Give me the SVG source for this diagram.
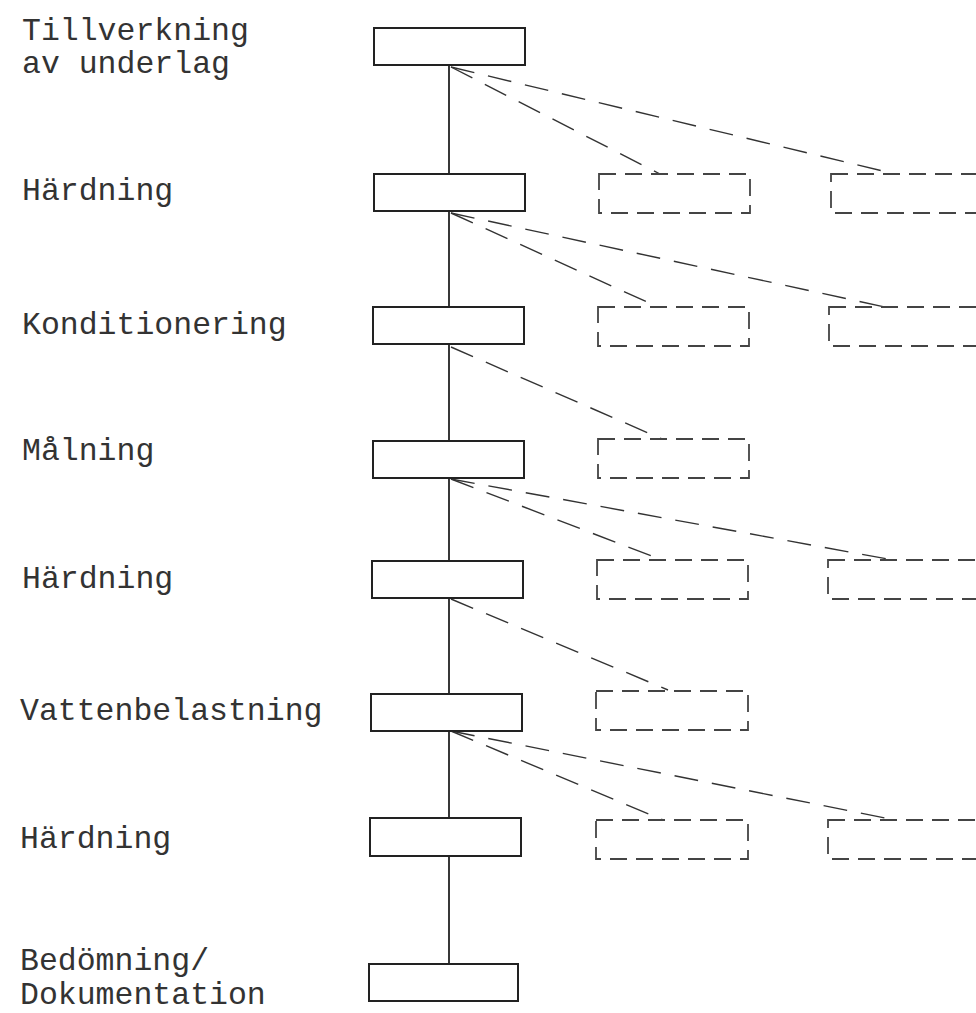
<svg xmlns="http://www.w3.org/2000/svg" width="976" height="1013" viewBox="0 0 976 1013">
<style>
.lbl{font-family:"Liberation Mono","Courier New",monospace;font-size:31.5px;fill:#333}
.box{fill:#fff;stroke:#222;stroke-width:2}
.opt{fill:none;stroke:#444;stroke-width:1.8;stroke-dasharray:17 9}
.trunk{stroke:#222;stroke-width:1.8;fill:none}
.dash{stroke:#333;stroke-width:1.4;fill:none;stroke-dasharray:24 14}
</style>
<rect width="976" height="1013" fill="#fff"/>
<g id="connectors">
<line class="trunk" x1="449" y1="65" x2="449" y2="964"/>
<line class="dash" x1="451" y1="67" x2="660" y2="174"/>
<line class="dash" x1="451" y1="67" x2="895" y2="174"/>
<line class="dash" x1="451" y1="213" x2="658" y2="307"/>
<line class="dash" x1="451" y1="213" x2="885" y2="307"/>
<line class="dash" x1="451" y1="347" x2="662" y2="439"/>
<line class="dash" x1="451" y1="479" x2="662" y2="560"/>
<line class="dash" x1="451" y1="479" x2="893" y2="560"/>
<line class="dash" x1="451" y1="599" x2="668" y2="690"/>
<line class="dash" x1="451" y1="731" x2="663" y2="820"/>
<line class="dash" x1="451" y1="731" x2="895" y2="820"/>
</g>
<g id="n1"><rect class="box" x="374" y="28" width="151" height="37"/><text class="lbl" x="22" y="40">Tillverkning</text><text class="lbl" x="22" y="73">av underlag</text></g>
<g id="n2"><rect class="box" x="374" y="174" width="151" height="37"/><text class="lbl" x="22" y="200">Härdning</text></g>
<g id="n3"><rect class="box" x="373" y="307" width="151" height="37"/><text class="lbl" x="22" y="334">Konditionering</text></g>
<g id="n4"><rect class="box" x="373" y="441" width="151" height="37"/><text class="lbl" x="22" y="460">Målning</text></g>
<g id="n5"><rect class="box" x="372" y="561" width="151" height="37"/><text class="lbl" x="22" y="588">Härdning</text></g>
<g id="n6"><rect class="box" x="371" y="694" width="151" height="37"/><text class="lbl" x="20" y="720">Vattenbelastning</text></g>
<g id="n7"><rect class="box" x="370" y="818" width="151" height="38"/><text class="lbl" x="20" y="848">Härdning</text></g>
<g id="n8"><rect class="box" x="369" y="964" width="149" height="37"/><text class="lbl" x="20" y="970">Bedömning/</text><text class="lbl" x="20" y="1004">Dokumentation</text></g>
<g id="o2a"><rect class="opt" x="599" y="174" width="151" height="39"/></g>
<g id="o2b"><rect class="opt" x="831" y="174" width="160" height="39"/></g>
<g id="o3a"><rect class="opt" x="598" y="307" width="151" height="39"/></g>
<g id="o3b"><rect class="opt" x="829" y="307" width="160" height="39"/></g>
<g id="o4a"><rect class="opt" x="598" y="439" width="151" height="39"/></g>
<g id="o5a"><rect class="opt" x="597" y="560" width="151" height="39"/></g>
<g id="o5b"><rect class="opt" x="828" y="560" width="160" height="39"/></g>
<g id="o6a"><rect class="opt" x="596" y="691" width="152" height="39"/></g>
<g id="o7a"><rect class="opt" x="596" y="820" width="152" height="39"/></g>
<g id="o7b"><rect class="opt" x="828" y="820" width="160" height="39"/></g>
</svg>
